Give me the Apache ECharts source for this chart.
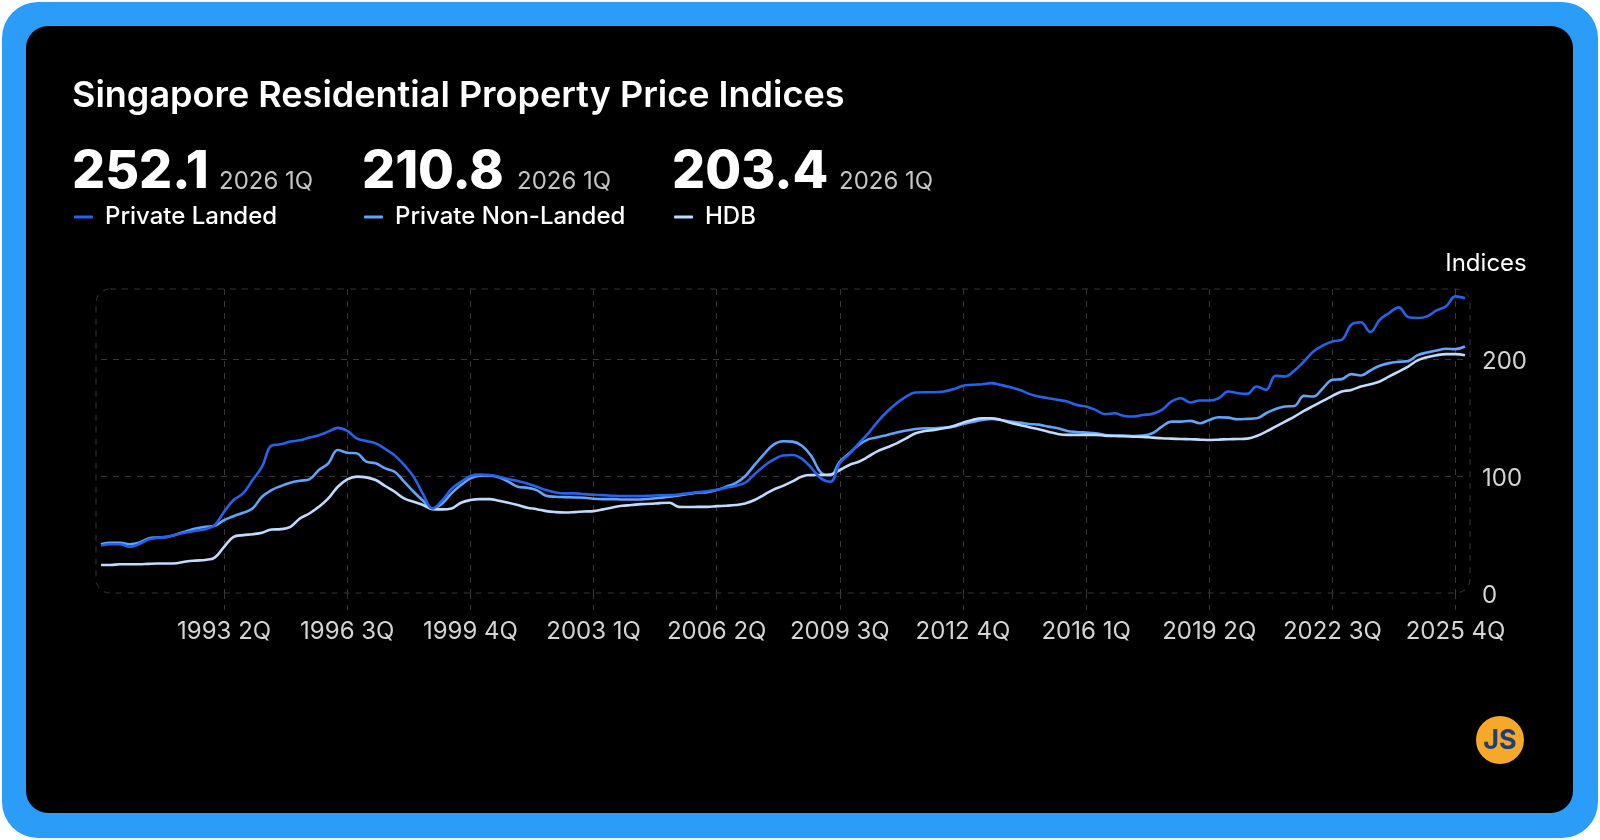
<!DOCTYPE html>
<html lang="en">
<head>
    <meta charset="UTF-8">
    <title>Singapore Residential Property Price Indices</title>
    <script src="https://cdn.jsdelivr.net/npm/echarts@6/dist/echarts.min.js"></script>
    <style>
        html, body{
            margin: 0;
            padding: 0;
            background: #fff;
        }
        /* 外框 */
        #frame{
            position: absolute;
            left: 2px;
            top: 2px;
            width: 1596px;
            height: 836px;
            border-radius: 36px;
            background: #2b9cf7;
        }
        #card{
            position: absolute;
            left: 26px;
            top: 26px;
            width: 1547px;
            height: 787px;
            border-radius: 22px;
            background: #000;
        }
        #chart{
            position: absolute;
            left: 0;
            top: 0;
            width: 1600px;
            height: 840px;
        }
    </style>
</head>
<body>
    <div id="frame"></div>
    <div id="card"></div>
    <div id="chart"></div>
    <script>
        // quarterly index values, 1990 1Q .. 2026 1Q
        const landed = [
            40.6, 41.7, 41.7, 39.5, 41.7, 45.7, 47.2, 48.0, 50.0, 51.7,
            53.2, 54.6, 58.0, 69.5, 79.5, 85.2, 96.6, 108.0, 126.0, 127.2,
            129.5, 130.6, 132.9, 134.9, 138.0, 141.2, 138.6, 132.3, 130.0, 128.0,
            123.2, 117.7, 109.5, 99.5, 84.6, 72.3, 79.0, 89.0, 95.0, 100.0,
            101.2, 100.9, 99.5, 97.5, 95.7, 93.7, 90.9, 88.0, 86.0, 85.2,
            85.2, 84.6, 84.0, 83.7, 83.2, 82.9, 82.9, 82.9, 83.2, 83.5,
            83.7, 84.3, 85.2, 86.3, 87.0, 88.3, 90.1, 91.6, 94.3, 101.5,
            108.7, 114.0, 117.6, 118.0, 114.7, 107.0, 98.0, 95.2, 110.9, 118.8,
            128.0, 136.6, 146.6, 155.2, 162.3, 168.0, 171.5, 171.7, 171.7, 172.3,
            174.3, 177.2, 178.0, 178.6, 179.5, 178.0, 176.0, 173.7, 170.3, 168.0,
            166.6, 165.2, 163.7, 160.9, 159.5, 156.6, 152.9, 153.7, 151.4, 150.9,
            152.3, 153.2, 156.6, 163.7, 166.6, 162.9, 164.6, 164.6, 166.6, 172.3,
            170.9, 170.3, 176.6, 173.7, 185.7, 185.2, 190.3, 198.0, 206.6, 211.7,
            215.2, 216.6, 229.5, 231.5, 223.2, 233.7, 239.5, 244.3, 236.0, 235.2,
            236.6, 241.7, 245.2, 253.7, 252.1
        ]
        const nonLanded = [
            41.7, 42.9, 42.9, 41.7, 42.9, 46.6, 47.5, 48.0, 50.3, 52.9,
            55.2, 56.6, 57.5, 62.3, 65.7, 68.6, 72.3, 82.3, 88.0, 91.5,
            94.3, 96.0, 97.2, 105.2, 110.9, 122.3, 120.0, 119.5, 112.3, 110.9,
            106.6, 103.7, 95.2, 86.6, 78.9, 72.3, 76.3, 85.2, 92.3, 98.0,
            100.3, 100.6, 98.9, 95.2, 90.9, 90.0, 88.0, 83.2, 82.3, 82.0,
            81.7, 81.5, 80.6, 80.3, 80.3, 80.0, 80.0, 80.0, 80.6, 81.5,
            82.3, 83.5, 84.6, 85.7, 86.3, 88.0, 90.9, 94.0, 99.9, 109.5,
            118.8, 126.9, 129.8, 129.5, 125.9, 117.0, 103.0, 100.5, 112.3, 119.5,
            126.6, 131.4, 133.2, 135.2, 137.2, 138.9, 140.3, 140.9, 140.9, 141.5,
            142.3, 144.6, 146.3, 148.0, 148.9, 148.0, 146.6, 145.7, 144.6, 144.0,
            142.3, 140.9, 138.6, 137.7, 137.2, 136.6, 135.2, 134.6, 134.6, 134.3,
            134.6, 136.6, 142.3, 146.6, 146.6, 147.2, 145.2, 148.0, 150.3, 150.0,
            148.6, 148.9, 149.4, 153.7, 157.4, 159.5, 160.0, 168.6, 168.0, 175.2,
            182.3, 182.9, 187.2, 186.0, 190.3, 194.3, 196.6, 197.7, 198.3, 203.4,
            205.7, 207.4, 208.9, 208.6, 210.8
        ]
        const hdb = [
            24.0, 24.0, 24.6, 24.6, 24.6, 24.9, 25.2, 25.2, 25.5, 26.9,
            27.7, 28.3, 30.3, 39.5, 48.0, 49.5, 50.3, 51.5, 54.3, 54.6,
            56.6, 63.7, 68.0, 73.7, 80.9, 90.9, 97.2, 99.5, 98.9, 96.6,
            91.5, 86.6, 80.9, 78.0, 75.2, 71.7, 71.5, 72.3, 77.2, 79.5,
            80.3, 80.3, 78.9, 77.2, 75.2, 72.9, 71.7, 70.0, 69.2, 68.9,
            69.2, 69.7, 70.0, 71.5, 73.2, 74.6, 75.2, 76.0, 76.3, 76.9,
            77.2, 73.7, 73.5, 73.7, 73.7, 74.3, 74.6, 75.2, 76.6, 79.5,
            84.0, 88.4, 91.6, 95.4, 99.7, 100.9, 100.9, 101.3, 105.2, 109.5,
            112.3, 116.6, 121.4, 124.6, 128.0, 132.3, 136.6, 138.6, 139.5, 140.9,
            142.9, 145.7, 148.0, 149.4, 149.4, 148.0, 145.7, 143.7, 141.7, 140.0,
            138.0, 136.0, 135.2, 135.2, 135.2, 135.2, 134.6, 134.3, 134.0, 133.7,
            133.5, 132.9, 132.3, 132.0, 131.7, 131.5, 131.2, 130.9, 131.2, 131.5,
            131.7, 132.0, 134.3, 138.0, 142.3, 146.6, 150.9, 155.7, 160.0, 164.3,
            168.6, 172.3, 173.7, 176.6, 178.6, 180.9, 185.2, 189.4, 193.7, 198.9,
            201.7, 203.4, 204.3, 204.3, 203.4
        ]
        const seriesNames = ['Private Landed', 'Private Non-Landed', 'HDB']
        const seriesColors = ['#2563eb', '#60a5fa', '#bfdbfe']
        const yTicks = [0, 100, 200]

        // 季度类目
        const quarters = []
        for (let y = 1990; y <= 2026; y++) {
            for (let q = 1; q <= 4; q++) {
                quarters.push(y + ' ' + q + 'Q')
                if (y === 2026) break
            }
        }

        const FONT = 'Inter, "Noto Sans", sans-serif'
        const GRID = { left: 101, right: 135, top: 289, bottom: 247 }
        const LABEL_STEP = 13
        const showAt = idx => idx > 0 && idx % LABEL_STEP === 0

        const allData = [landed, nonLanded, hdb]
        const headX = [72, 362, 672]
        const dateX = [219, 517, 839]

        let titles = [{
            text: 'Singapore Residential Property Price Indices',
            left: 72,
            top: 78,
            padding: 0,
            textStyle: { color: '#fff', fontFamily: FONT, fontSize: 36, fontWeight: 600 }
        }]
        allData.forEach((arr, i) => {
            titles.push({
                text: arr[arr.length - 1].toFixed(1),
                left: headX[i],
                top: 146,
                padding: 0,
                textStyle: { color: '#fff', fontFamily: FONT, fontSize: 52, fontWeight: 800 }
            })
            titles.push({
                text: quarters[quarters.length - 1],
                left: dateX[i],
                top: 170,
                padding: 0,
                textStyle: { color: '#c4c4c4', fontFamily: FONT, fontSize: 24, fontWeight: 400 }
            })
        })

        const legends = seriesNames.map((name, i) => ({
            data: [name],
            left: headX[i] + 2,
            top: 205,
            padding: 0,
            icon: 'roundRect',
            itemWidth: 19,
            itemHeight: 3,
            selectedMode: false,
            textStyle: { color: '#fff', fontFamily: FONT, fontSize: 24, fontWeight: 500, padding: [0, 0, 0, 7] }
        }))

        const dashColor = '#363636'
        const plotW = 1600 - GRID.left - GRID.right
        const plotH = 840 - GRID.top - GRID.bottom

        let myChart = echarts.init(document.getElementById('chart'))
        let option = {
            backgroundColor: 'transparent',
            animation: false,
            title: titles,
            legend: legends,
            grid: GRID,
            xAxis: {
                type: 'category',
                data: quarters,
                boundaryGap: false,
                axisLine: { show: false },
                axisTick: {
                    show: true,
                    interval: showAt,
                    length: 17,
                    lineStyle: { color: dashColor, type: [6, 6] }
                },
                axisLabel: {
                    interval: showAt,
                    margin: 27,
                    color: '#d4d4d4',
                    fontFamily: FONT,
                    fontSize: 24
                },
                splitLine: {
                    show: true,
                    interval: showAt,
                    lineStyle: { color: dashColor, type: [6, 6] }
                }
            },
            yAxis: {
                type: 'value',
                position: 'right',
                min: 0,
                max: 260,
                interval: 100,
                name: 'Indices',
                nameLocation: 'end',
                nameGap: 13,
                nameTextStyle: { color: '#fff', fontFamily: FONT, fontSize: 24, align: 'center', padding: [0, 0, 0, 42] },
                axisLine: { show: false },
                axisTick: { show: false },
                axisLabel: {
                    margin: 17,
                    color: '#d4d4d4',
                    fontFamily: FONT,
                    fontSize: 24,
                    // 文字略低于刻度线
                    verticalAlign: 'top',
                    lineHeight: 6,
                    showMaxLabel: false,
                    formatter: v => yTicks.indexOf(v) >= 0 ? String(v) : ''
                },
                splitLine: {
                    show: true,
                    showMinLine: false,
                    showMaxLine: false,
                    lineStyle: { color: dashColor, type: [6, 6] }
                }
            },
            graphic: [
                {
                    // 圆角虚线边框
                    type: 'rect',
                    silent: true,
                    z: -1,
                    shape: { x: GRID.left - 5, y: GRID.top, width: plotW + 10, height: plotH, r: 14 },
                    style: { fill: null, stroke: dashColor, lineWidth: 1, lineDash: [6, 6] }
                },
                {
                    type: 'group',
                    right: 76,
                    bottom: 76,
                    children: [
                        { type: 'circle', shape: { cx: 24, cy: 24, r: 24 }, style: { fill: '#f6a829' } },
                        {
                            type: 'text',
                            x: 24,
                            y: 25,
                            style: {
                                text: 'JS',
                                fill: '#1f3f7c',
                                font: '700 27px ' + FONT,
                                align: 'center',
                                verticalAlign: 'middle'
                            }
                        }
                    ]
                }
            ],
            // 绘制顺序：Landed 在最上层
            series: [1, 2, 0].map(i => ({
                name: seriesNames[i],
                type: 'line',
                data: allData[i],
                smooth: 0.4,
                showSymbol: false,
                symbol: 'none',
                itemStyle: { color: seriesColors[i] },
                lineStyle: { color: seriesColors[i], width: 2.6 },
                z: i === 0 ? 4 : 3
            }))
        }
        myChart.setOption(option)
    </script>
</body>
</html>
